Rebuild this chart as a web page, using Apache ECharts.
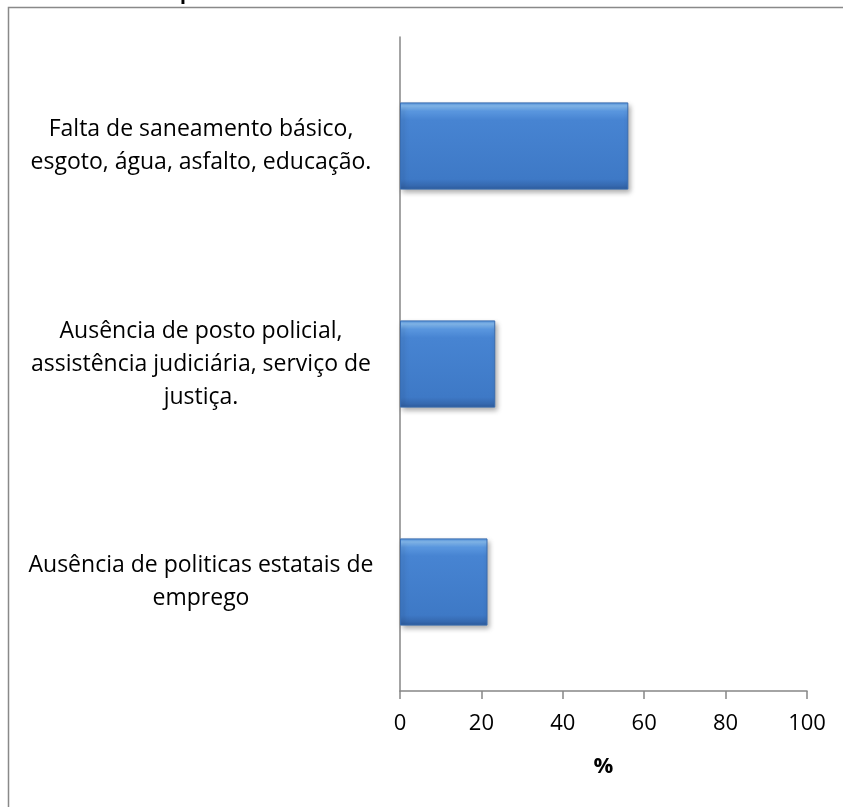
<!DOCTYPE html>
<html>
<head>
<meta charset="utf-8">
<style>
  html, body { margin: 0; padding: 0; background: #ffffff; }
  #chart { width: 843px; height: 807px; }
</style>
<script src="https://cdn.jsdelivr.net/npm/echarts@6/dist/echarts.min.js"></script>
</head>
<body>
<div id="chart"></div>
<script>
// Categories, top to bottom
var categories = [
  'Falta de saneamento básico,\nesgoto, água, asfalto, educação.',
  'Ausência de posto policial,\nassistência judiciária, serviço de\njustiça.',
  'Ausência de politicas estatais de\nemprego'
];
// Share of answers, in %
var percentValues = [56.1, 23.4, 21.5];
// Value axis ticks
var axisMin = 0;
var axisMax = 100;
var axisStep = 20;

var FONT = '"Open Sans", Lato, sans-serif';

var barFill = new echarts.graphic.LinearGradient(0, 0, 0, 1, [
  { offset: 0.00, color: '#4f8fdc' },
  { offset: 0.04, color: '#86bdf3' },
  { offset: 0.10, color: '#5a97df' },
  { offset: 0.20, color: '#4784d2' },
  { offset: 0.88, color: '#3e79c6' },
  { offset: 0.96, color: '#3568ae' },
  { offset: 1.00, color: '#2d5b9c' }
]);

var chart = echarts.init(document.getElementById('chart'), null, { renderer: 'canvas' });

chart.setOption({
  animation: false,
  backgroundColor: '#ffffff',
  grid: { left: 400, right: 36, top: 37, bottom: 116, containLabel: false },
  xAxis: {
    type: 'value',
    min: axisMin,
    max: axisMax,
    interval: axisStep,
    name: '%',
    nameLocation: 'middle',
    nameGap: 65,
    nameTextStyle: { fontFamily: FONT, fontSize: 22, fontWeight: 'bold', color: '#000000' },
    axisLine: { show: true, lineStyle: { color: '#868686', width: 1.5 } },
    axisTick: { show: true, length: 8, lineStyle: { color: '#868686', width: 1.5 } },
    axisLabel: { margin: 22, fontFamily: FONT, fontSize: 22, color: '#000000' },
    splitLine: { show: false }
  },
  yAxis: {
    type: 'category',
    inverse: true,
    data: categories,
    axisLine: { show: true, lineStyle: { color: '#868686', width: 1.5 } },
    axisTick: { show: false },
    axisLabel: {
      margin: 199,
      align: 'center',
      fontFamily: FONT,
      fontSize: 23,
      lineHeight: 33,
      color: '#000000'
    }
  },
  series: [{
    type: 'bar',
    data: percentValues,
    barCategoryGap: '60%',
    itemStyle: {
      color: barFill,
      borderColor: '#3a6db0',
      borderWidth: 1,
      shadowColor: 'rgba(0,0,0,0.35)',
      shadowBlur: 5,
      shadowOffsetX: 2,
      shadowOffsetY: 3
    }
  }],
  graphic: [
    {
      type: 'rect',
      shape: { x: 8.5, y: 7.5, width: 860, height: 820 },
      style: { fill: 'none', stroke: '#898989', lineWidth: 1.5 },
      silent: true
    },
    {
      type: 'text',
      left: 180,
      top: -20,
      style: { text: 'p', font: 'bold 24px Lato, sans-serif', fill: '#000000' },
      silent: true,
      z: -1
    }
  ]
});
</script>
</body>
</html>
